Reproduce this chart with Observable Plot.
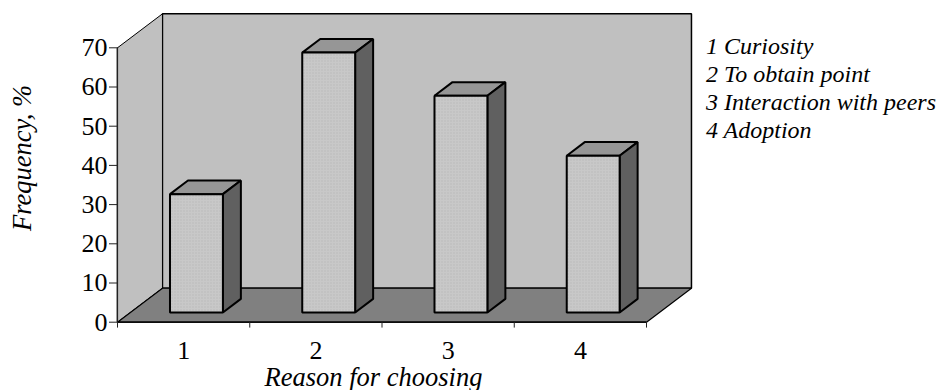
<!DOCTYPE html>
<html>
<head>
<meta charset="utf-8">
<script src="https://cdn.jsdelivr.net/npm/d3@7"></script>
<script src="https://cdn.jsdelivr.net/npm/@observablehq/plot@0.6"></script>
<style>
html,body{margin:0;padding:0;background:#fff}
svg{display:block}
</style>
</head>
<body>
<div id="chart"></div>
<script>
const categories = [1, 2, 3, 4];
const frequencies = [30.2, 66.3, 55.3, 40];
const yTicks = [0, 10, 20, 30, 40, 50, 60, 70];
const legendLabels = ["1 Curiosity", "2 To obtain point", "3 Interaction with peers", "4 Adoption"];
const xTitle = "Reason for choosing";
const yTitle = "Frequency, %";

// Oblique projection: one unit of depth shifts a point right and up, in data units
const depthX = 0.34, depthY = 8.67;
const project = ([c, v, d]) => ({x: c + d * depthX, y: v + d * depthY});
const face = (...pts) => pts.map(project);
const closed = (data, fill, strokeWidth) =>
  Plot.line(data, {x: "x", y: "y", curve: "linear-closed", fill, stroke: "#000", strokeWidth, strokeLinejoin: "miter"});

const xMin = 0.5, xMax = 4.5, vMax = 70;
const halfBar = 0.2, front = 0.285, back = 0.685;

const barMarks = categories.flatMap((c, i) => {
  const v = frequencies[i], l = c - halfBar, r = c + halfBar;
  return [
    closed(face([l, v, front], [r, v, front], [r, v, back], [l, v, back]), "#969696", 2),
    closed(face([r, 0, front], [r, v, front], [r, v, back], [r, 0, back]), "#606060", 2),
    closed(face([l, 0, front], [r, 0, front], [r, v, front], [l, v, front]), "url(#dots)", 2)
  ];
});

const plot = Plot.plot({
  width: 941,
  height: 390,
  marginLeft: 117,
  marginRight: 295,
  marginTop: 47.3,
  marginBottom: 68.3,
  style: {fontFamily: "'Liberation Serif', serif", background: "#fff", color: "#000", overflow: "visible"},
  x: {type: "linear", domain: [xMin, xMax]},
  y: {type: "linear", domain: [0, vMax]},
  marks: [
    closed(face([xMin, 0, 1], [xMax, 0, 1], [xMax, vMax, 1], [xMin, vMax, 1]), "#c0c0c0", 1.5),
    closed(face([xMin, 0, 0], [xMin, 0, 1], [xMin, vMax, 1], [xMin, vMax, 0]), "#c0c0c0", 1),
    closed(face([xMin, 0, 0], [xMax, 0, 0], [xMax, 0, 1], [xMin, 0, 1]), "#808080", 1.2),
    Plot.ruleX([xMin], {stroke: "#222", strokeWidth: 1.2}),
    Plot.ruleY([0], {stroke: "#000", strokeWidth: 1.2}),
    Plot.axisY({ticks: yTicks, tickSize: 8, tickPadding: 2, fontSize: 26, label: null, stroke: "#222"}),
    Plot.axisX({ticks: categories, tickSize: 0, tickPadding: 18, fontSize: 26, label: null, tickFormat: d => String(d)}),
    Plot.ruleX(d3.range(xMin, xMax + 1), {y1: 0, y2: -1.5, stroke: "#222"}),
    ...barMarks,
    ...legendLabels.map((t, i) =>
      Plot.text([t], {x: 4.95, y: 70.5 - 7.2 * i, text: d => d, textAnchor: "start", fontSize: 24, fontStyle: "italic", fill: "#000"})
    ),
    Plot.text([xTitle], {x: 2.436, y: -14, text: d => d, fontSize: 26.5, fontStyle: "italic", fill: "#000"}),
    Plot.text([yTitle], {x: -0.22, y: 41.9, text: d => d, rotate: -90, fontSize: 26.5, fontStyle: "italic", fill: "#000"})
  ]
});

// Fine dotted fill of the bar fronts
const ns = "http://www.w3.org/2000/svg";
const defs = document.createElementNS(ns, "defs");
defs.innerHTML = '<pattern id="dots" width="3" height="3" patternUnits="userSpaceOnUse"><rect width="3" height="3" fill="#c8c8c8"/><rect width="1" height="1" fill="#b0b0b0"/></pattern>';
plot.insertBefore(defs, plot.firstChild);
document.getElementById("chart").appendChild(plot);
</script>
</body>
</html>
